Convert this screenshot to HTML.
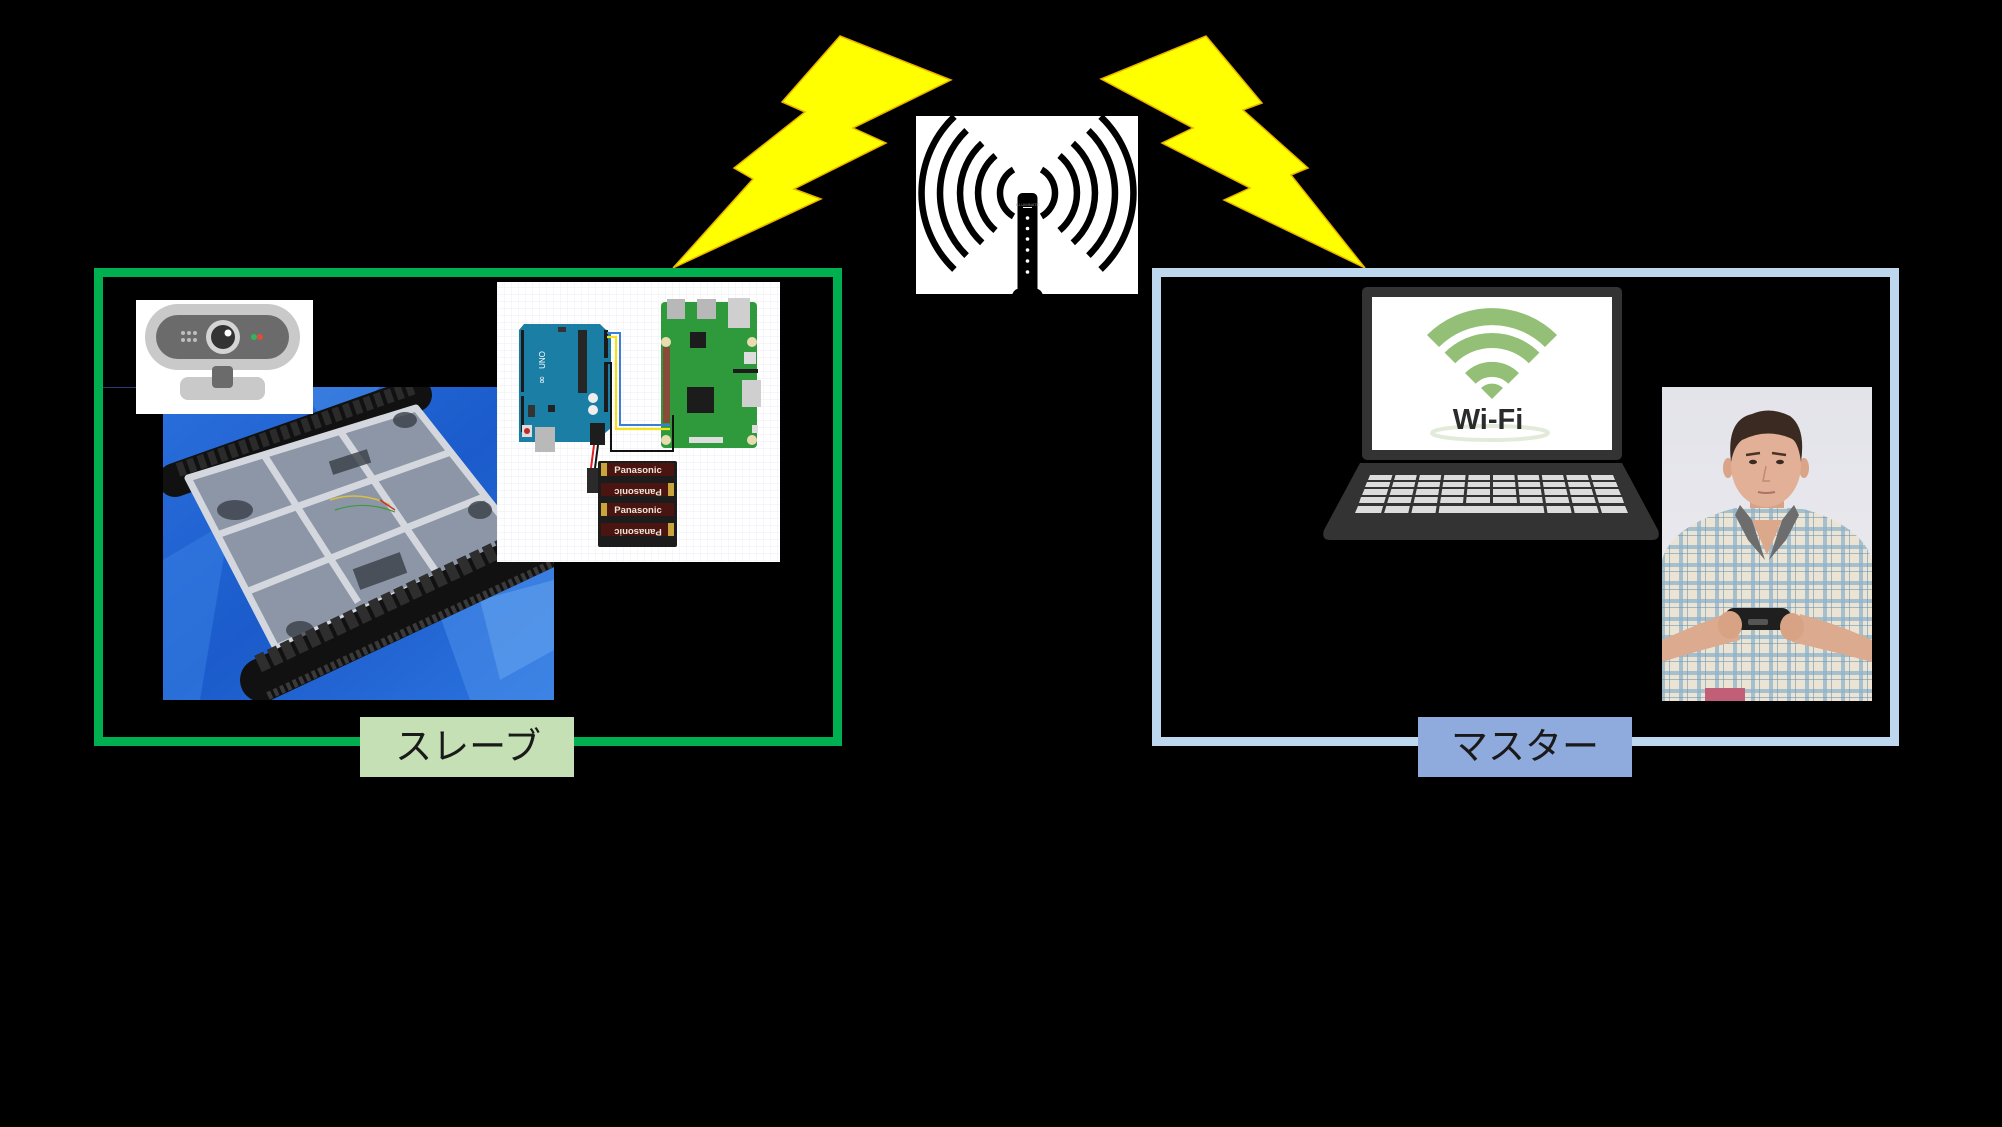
<!DOCTYPE html>
<html><head><meta charset="utf-8">
<style>
html,body{margin:0;padding:0;background:#000;}
svg{display:block;}
</style></head><body>
<svg width="2002" height="1127" viewBox="0 0 2002 1127" xmlns="http://www.w3.org/2000/svg">
<defs>
  <pattern id="grid" width="7" height="7" patternUnits="userSpaceOnUse">
    <path d="M7 0 L0 0 0 7" fill="none" stroke="#e6e9ef" stroke-width="0.7"/>
  </pattern>
  <linearGradient id="tarp" x1="0" y1="0" x2="1" y2="1">
    <stop offset="0" stop-color="#2a6fdc"/>
    <stop offset="0.5" stop-color="#1b5bcb"/>
    <stop offset="1" stop-color="#2c74de"/>
  </linearGradient>
  <linearGradient id="bg2" x1="0" y1="0" x2="0" y2="1">
    <stop offset="0" stop-color="#e3e3ea"/>
    <stop offset="1" stop-color="#ececf0"/>
  </linearGradient>
  <pattern id="plaid" width="18" height="18" patternUnits="userSpaceOnUse">
    <rect width="18" height="18" fill="#ebe3d3"/>
    <rect x="0" y="5" width="18" height="4" fill="#8fb3c9" opacity="0.75"/>
    <rect x="5" y="0" width="4" height="18" fill="#8fb3c9" opacity="0.75"/>
    <rect x="0" y="13" width="18" height="1" fill="#6f97b3" opacity="0.6"/>
    <rect x="13" y="0" width="1" height="18" fill="#6f97b3" opacity="0.6"/>
  </pattern>
  <clipPath id="robotClip"><rect x="163" y="387" width="391" height="313"/></clipPath>
  <clipPath id="personClip"><rect x="1662" y="387" width="210" height="314"/></clipPath>
</defs>

<rect width="2002" height="1127" fill="#000"/>

<!-- Lightning bolts -->
<polygon points="840,36 951,80 853,128 886,143 794,189 821,199 673,268 753,179 734,168 805,112 782,102"
  fill="#ffff00" stroke="#e8b400" stroke-width="1.5" stroke-linejoin="miter"/>
<polygon points="1206,36 1262,103 1243,110 1308,168 1291,175 1365,268 1224,200 1250,188 1162,143 1193,128 1101,79"
  fill="#ffff00" stroke="#e8b400" stroke-width="1.5" stroke-linejoin="miter"/>

<!-- Router / access point -->
<rect x="916" y="116" width="222" height="178" fill="#fff"/>
<g fill="none" stroke="#000" stroke-width="6.5" stroke-linecap="butt">
  <!-- left arcs -->
  <path d="M 954.4 116.5 A 105.5 105.5 0 0 0 954.4 269.5"/>
  <path d="M 966.6 130.4 A 87 87 0 0 0 966.6 255.6"/>
  <path d="M 982.2 143.2 A 67 67 0 0 0 982.2 242.8"/>
  <path d="M 995.5 155.5 A 49 49 0 0 0 995.5 230.5"/>
  <path d="M 1013.5 169.6 A 27 27 0 0 0 1013.5 216.4"/>
  <!-- right arcs -->
  <path d="M 1100.6 116.5 A 105.5 105.5 0 0 1 1100.6 269.5"/>
  <path d="M 1088.4 130.4 A 87 87 0 0 1 1088.4 255.6"/>
  <path d="M 1072.8 143.2 A 67 67 0 0 1 1072.8 242.8"/>
  <path d="M 1059.5 155.5 A 49 49 0 0 1 1059.5 230.5"/>
  <path d="M 1041.5 169.6 A 27 27 0 0 1 1041.5 216.4"/>
</g>
<rect x="1017.5" y="193" width="20" height="100" rx="5" fill="#000"/>
<path d="M1012 295 Q1014 289 1020 288 L1035 288 Q1041 289 1043 295 Z" fill="#000"/>
<text x="1027.5" y="206" font-family="Liberation Sans, sans-serif" font-size="4" fill="#888" text-anchor="middle">ILLUMINATE</text>
<rect x="1023" y="207" width="9" height="1" fill="#fff"/>
<g fill="#fff">
  <circle cx="1027.5" cy="218" r="1.8"/>
  <circle cx="1027.5" cy="228.5" r="1.8"/>
  <circle cx="1027.5" cy="239" r="1.8"/>
  <circle cx="1027.5" cy="250" r="1.8"/>
  <circle cx="1027.5" cy="261" r="1.8"/>
  <circle cx="1027.5" cy="272" r="1.8"/>
</g>

<!-- Slave box -->
<rect x="98.5" y="272.5" width="739" height="469" fill="none" stroke="#00b050" stroke-width="9"/>
<!-- Master box -->
<rect x="1156.5" y="272.5" width="738" height="469" fill="none" stroke="#bdd7ee" stroke-width="9"/>

<!-- thin line -->
<line x1="103" y1="387.5" x2="163" y2="387.5" stroke="#2a3a78" stroke-width="1"/>

<!-- Robot photo -->
<g clip-path="url(#robotClip)">
  <rect x="163" y="387" width="391" height="313" fill="url(#tarp)"/>
  <polygon points="163,560 230,520 200,700 163,700" fill="#3a82e6" opacity="0.5"/>
  <polygon points="420,560 554,520 554,700 470,700" fill="#4a90ea" opacity="0.55"/>
  <polygon points="300,387 380,387 330,430" fill="#4b8fe8" opacity="0.5"/>
  <polygon points="480,600 554,580 554,650 500,680" fill="#6aa8f0" opacity="0.5"/>
  <!-- back track -->
  <path d="M 175 480 L 415 395" stroke="#111" stroke-width="34" stroke-linecap="round"/>
  <path d="M 178 470 L 415 387" stroke="#2b2b2b" stroke-width="14" stroke-dasharray="7 4"/>
  <!-- frame -->
  <polygon points="188,478 416,408 520,540 276,648" fill="#8c96a6"/>
  <g stroke="#d4d8de" stroke-width="7" fill="none" stroke-linejoin="round">
    <polygon points="188,478 416,408 520,540 276,648"/>
    <line x1="217" y1="535" x2="451" y2="452"/>
    <line x1="246" y1="592" x2="486" y2="496"/>
    <line x1="264" y1="455" x2="358" y2="602"/>
    <line x1="340" y1="431" x2="439" y2="576"/>
  </g>
  <g fill="#3a3f48" opacity="0.8">
    <ellipse cx="235" cy="510" rx="18" ry="10"/>
    <rect x="330" y="455" width="40" height="14" transform="rotate(-18 350 462)"/>
    <rect x="355" y="560" width="50" height="22" transform="rotate(-20 380 571)"/>
    <ellipse cx="300" cy="630" rx="14" ry="9"/>
    <ellipse cx="405" cy="420" rx="12" ry="8"/>
    <ellipse cx="480" cy="510" rx="12" ry="9"/>
  </g>
  <path d="M330 500 Q360 490 390 505" stroke="#d8c040" stroke-width="1.5" fill="none"/>
  <path d="M335 510 Q365 500 395 512" stroke="#3c9a3c" stroke-width="1.2" fill="none"/>
  <path d="M380 500 L395 510" stroke="#d03030" stroke-width="1.5"/>
  <!-- front track -->
  <path d="M 262 680 L 560 540" stroke="#111" stroke-width="44" stroke-linecap="round"/>
  <path d="M 258 664 L 556 522" stroke="#2e2e2e" stroke-width="18" stroke-dasharray="10 4"/>
  <path d="M 268 696 L 560 560" stroke="#3a3a3a" stroke-width="8" stroke-dasharray="4 3"/>
</g>

<!-- Webcam -->
<rect x="136" y="300" width="177" height="114" fill="#fff"/>
<rect x="145" y="304" width="155" height="66" rx="33" fill="#c9c9c9"/>
<rect x="156" y="315" width="133" height="44" rx="22" fill="#6b6b6b"/>
<circle cx="223" cy="337" r="17" fill="#d4d4d4"/>
<circle cx="223" cy="337" r="12" fill="#333"/>
<circle cx="228" cy="333" r="3.5" fill="#fff"/>
<g fill="#bdbdbd">
  <circle cx="183" cy="333" r="2"/><circle cx="189" cy="333" r="2"/><circle cx="195" cy="333" r="2"/>
  <circle cx="183" cy="340" r="2"/><circle cx="189" cy="340" r="2"/><circle cx="195" cy="340" r="2"/>
</g>
<circle cx="254" cy="337" r="3" fill="#2fb55a"/>
<circle cx="260" cy="337" r="3" fill="#e04a3a"/>
<rect x="180" y="377" width="85" height="23" rx="8" fill="#c9c9c9"/>
<rect x="212" y="366" width="21" height="22" rx="4" fill="#6b6b6b"/>

<!-- Circuit diagram -->
<rect x="497" y="282" width="283" height="280" fill="#fff"/>
<rect x="497" y="282" width="283" height="280" fill="url(#grid)"/>
<!-- Arduino -->
<polygon points="519,330 524,324 600,324 604,328 611,334 611,428 604,434 604,442 519,442" fill="#1a7ea5"/>
<rect x="521" y="330" width="3" height="62" fill="#1b1b1b"/>
<rect x="521" y="396" width="3" height="36" fill="#1b1b1b"/>
<rect x="604" y="330" width="4" height="28" fill="#1b1b1b"/>
<rect x="604" y="362" width="4" height="50" fill="#1b1b1b"/>
<rect x="578" y="330" width="9" height="63" fill="#262626"/>
<rect x="558" y="327" width="8" height="5" fill="#333"/>
<circle cx="593" cy="398" r="5" fill="#eee"/>
<circle cx="593" cy="410" r="5" fill="#eee"/>
<rect x="548" y="405" width="7" height="7" fill="#222"/>
<rect x="528" y="405" width="7" height="12" fill="#333"/>
<text x="545" y="360" font-family="Liberation Sans, sans-serif" font-size="8" fill="#fff" transform="rotate(-90 545 360)" text-anchor="middle">UNO</text>
<text x="545" y="380" font-family="DejaVu Sans, sans-serif" font-size="10" fill="#fff" transform="rotate(-90 545 380)" text-anchor="middle">∞</text>
<rect x="535" y="427" width="20" height="25" fill="#b9b9b9"/>
<rect x="522" y="425" width="10" height="12" fill="#ddd"/>
<circle cx="527" cy="431" r="3" fill="#c02a2a"/>
<rect x="590" y="423" width="15" height="22" fill="#1d1d1d"/>
<!-- Raspberry Pi -->
<rect x="661" y="302" width="96" height="146" rx="4" fill="#2e9a3b"/>
<rect x="667" y="299" width="18" height="20" fill="#b8b8b8"/>
<rect x="697" y="299" width="19" height="20" fill="#b8b8b8"/>
<rect x="728" y="298" width="22" height="30" fill="#cfcfcf"/>
<rect x="690" y="332" width="16" height="16" fill="#1c1c1c"/>
<rect x="687" y="387" width="27" height="26" fill="#1c1c1c"/>
<rect x="663" y="347" width="7" height="76" fill="#8a4a3a"/>
<rect x="742" y="380" width="19" height="27" fill="#cfcfcf"/>
<rect x="744" y="352" width="12" height="12" fill="#ddd"/>
<rect x="733" y="369" width="25" height="4" fill="#1c1c1c"/>
<rect x="689" y="437" width="34" height="6" fill="#ddd"/>
<rect x="752" y="425" width="6" height="8" fill="#ddd"/>
<g fill="#e8dcb0"><circle cx="666" cy="342" r="5"/><circle cx="752" cy="342" r="5"/><circle cx="666" cy="440" r="5"/><circle cx="752" cy="440" r="5"/></g>
<!-- wires -->
<polyline points="607,333 620,333 620,425 670,425" fill="none" stroke="#3a7fd5" stroke-width="2"/>
<polyline points="607,337 616,337 616,429 670,429" fill="none" stroke="#f2e21e" stroke-width="2.2"/>
<polyline points="607,363 611,363 611,451 673,451 673,415" fill="none" stroke="#111" stroke-width="2"/>
<line x1="594" y1="445" x2="591" y2="468" stroke="#e02020" stroke-width="2"/>
<line x1="598" y1="445" x2="595" y2="468" stroke="#111" stroke-width="2"/>
<rect x="587" y="468" width="11" height="25" fill="#2a2a2a"/>
<!-- Battery holder -->
<rect x="598" y="461" width="79" height="86" rx="2" fill="#1c1c1c"/>
<g>
  <rect x="601" y="463" width="73" height="13" fill="#4a1410"/>
  <rect x="601" y="483" width="73" height="13" fill="#4a1410"/>
  <rect x="601" y="503" width="73" height="13" fill="#4a1410"/>
  <rect x="601" y="523" width="73" height="13" fill="#4a1410"/>
  <rect x="601" y="463" width="6" height="13" fill="#c9a43a"/>
  <rect x="668" y="483" width="6" height="13" fill="#c9a43a"/>
  <rect x="601" y="503" width="6" height="13" fill="#c9a43a"/>
  <rect x="668" y="523" width="6" height="13" fill="#c9a43a"/>
</g>
<g font-family="Liberation Sans, sans-serif" font-weight="bold" font-size="9.5" fill="#eee6d8" text-anchor="middle">
  <text x="638" y="473">Panasonic</text>
  <text x="638" y="489" transform="rotate(180 638 489)">Panasonic</text>
  <text x="638" y="513">Panasonic</text>
  <text x="638" y="529" transform="rotate(180 638 529)">Panasonic</text>
</g>

<!-- Laptop -->
<rect x="1362" y="287" width="260" height="173" rx="5" fill="#333"/>
<rect x="1372" y="297" width="240" height="153" fill="#fff"/>
<path d="M1360 463 L1622 463 L1658 530 Q1661 540 1652 540 L1330 540 Q1321 540 1324 530 Z" fill="#333"/>
<g fill="#dcdcdc">
  <polygon points="1370,475 1613,475 1615,480 1368,480"/>
  <polygon points="1367,482 1616,482 1618,487 1365,487"/>
  <polygon points="1364.5,489 1618.5,489 1621,495 1362,495"/>
  <polygon points="1361,497 1622,497 1624,503 1359,503"/>
  <polygon points="1358,506 1625,506 1628,513 1355,513"/>
</g>
<g stroke="#333" stroke-width="3">
  <line x1="1394.3" y1="474" x2="1382.3" y2="514"/>
  <line x1="1418.6" y1="474" x2="1409.6" y2="514"/>
  <line x1="1442.9" y1="474" x2="1436.9" y2="514"/>
  <line x1="1467.2" y1="474" x2="1464.2" y2="506"/>
  <line x1="1491.5" y1="474" x2="1491.5" y2="506"/>
  <line x1="1515.8" y1="474" x2="1518.8" y2="506"/>
  <line x1="1540.1" y1="474" x2="1546.1" y2="514"/>
  <line x1="1564.4" y1="474" x2="1573.4" y2="514"/>
  <line x1="1588.7" y1="474" x2="1600.7" y2="514"/>
</g>
<!-- wifi icon -->
<g fill="none" stroke="#93bf76" stroke-linecap="butt">
  <path d="M 1433 341 A 83.5 83.5 0 0 1 1551 341" stroke-width="17"/>
  <path d="M 1449.9 357.9 A 59.5 59.5 0 0 1 1534.1 357.9" stroke-width="15"/>
  <path d="M 1470.4 378.4 A 30.5 30.5 0 0 1 1513.6 378.4" stroke-width="15"/>
</g>
<path d="M1492 399 L1481 388 A 16 16 0 0 1 1503 388 Z" fill="#93bf76"/>
<ellipse cx="1490" cy="433" rx="58" ry="7" fill="none" stroke="#e2ebda" stroke-width="4"/>
<text x="1488" y="429" font-family="Liberation Sans, sans-serif" font-weight="bold" font-size="29" fill="#2b2b2b" text-anchor="middle">Wi-Fi</text>

<!-- Person photo -->
<g clip-path="url(#personClip)">
  <rect x="1662" y="387" width="210" height="314" fill="url(#bg2)"/>
  <ellipse cx="1672" cy="680" rx="30" ry="50" fill="#f2f0ec"/>
  <ellipse cx="1862" cy="680" rx="30" ry="50" fill="#f2f0ec"/>
  <rect x="1750" y="480" width="34" height="40" fill="#d7a286"/>
  <path d="M1662 560 Q1672 525 1735 508 L1800 508 Q1862 525 1872 560 L1872 701 L1662 701 Z" fill="url(#plaid)"/>
  <polygon points="1740,505 1752,520 1765,560 1748,540 1735,515" fill="#6d6d6d"/>
  <polygon points="1794,505 1782,520 1769,560 1786,540 1799,515" fill="#6d6d6d"/>
  <polygon points="1752,520 1782,520 1767,555" fill="#dca88c"/>
  <ellipse cx="1728" cy="468" rx="5" ry="10" fill="#d9a487"/>
  <ellipse cx="1804" cy="468" rx="5" ry="10" fill="#d9a487"/>
  <ellipse cx="1766" cy="465" rx="35" ry="42" fill="#e2b096"/>
  <path d="M1731 462 Q1726 420 1752 414 Q1770 406 1790 416 Q1806 428 1801 462 Q1798 440 1790 438 Q1766 428 1742 440 Q1734 446 1731 462 Z" fill="#3b2a22"/>
  <path d="M1746 455 L1760 453" stroke="#4a3226" stroke-width="2.5"/>
  <path d="M1772 453 L1786 455" stroke="#4a3226" stroke-width="2.5"/>
  <ellipse cx="1753" cy="462" rx="4" ry="2.2" fill="#3a2a24"/>
  <ellipse cx="1780" cy="462" rx="4" ry="2.2" fill="#3a2a24"/>
  <path d="M1766 466 L1763 481 L1770 481" stroke="#c08a72" stroke-width="1.5" fill="none"/>
  <path d="M1758 492 Q1766 494 1775 492" stroke="#b0706a" stroke-width="2" fill="none"/>
  <path d="M1662 640 Q1695 625 1730 612 L1740 640 Q1700 650 1662 662 Z" fill="#dcaa8e"/>
  <path d="M1872 640 Q1840 625 1800 614 L1792 642 Q1835 652 1872 662 Z" fill="#dcaa8e"/>
  <rect x="1725" y="608" width="66" height="22" rx="9" fill="#1f1f1f"/>
  <rect x="1748" y="619" width="20" height="6" rx="2" fill="#555"/>
  <ellipse cx="1730" cy="625" rx="12" ry="14" fill="#d8a285"/>
  <ellipse cx="1792" cy="627" rx="12" ry="14" fill="#d8a285"/>
  <rect x="1705" y="688" width="40" height="13" fill="#c25f78"/>
</g>

<!-- Labels -->
<rect x="360" y="717" width="214" height="60" fill="#c5e0b4"/>
<text x="468" y="759" font-family="Liberation Sans, 'Noto Sans CJK JP', sans-serif" font-size="37" fill="#1a1a1a" text-anchor="middle">スレーブ</text>
<rect x="1418" y="717" width="214" height="60" fill="#8faadc"/>
<text x="1525" y="759" font-family="Liberation Sans, 'Noto Sans CJK JP', sans-serif" font-size="37" fill="#1a1a1a" text-anchor="middle">マスター</text>
</svg>
</body></html>
